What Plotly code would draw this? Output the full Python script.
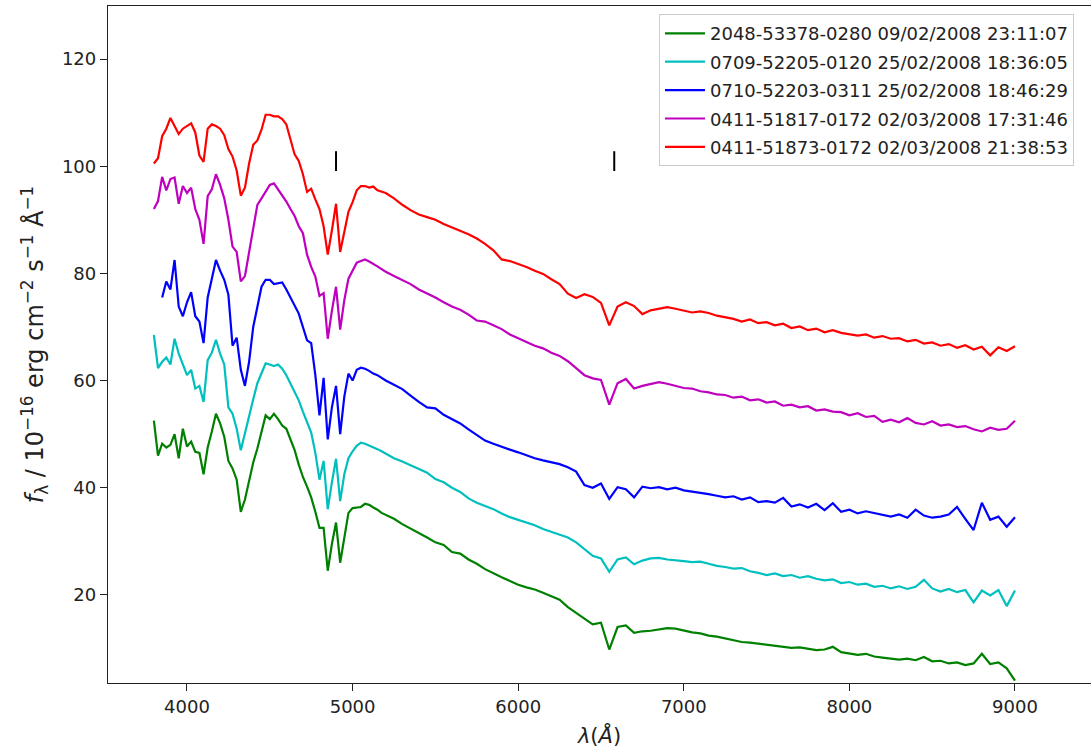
import plotly.graph_objects as go

# wavelength grid (Angstrom): 25 A steps in the blue, 50 A steps redwards
wave_blue = list(range(3800, 5201, 25))
wave_red = list(range(5250, 9001, 50))
wavelength = wave_blue + wave_red

labels = [
    "2048-53378-0280 09/02/2008 23:11:07",
    "0709-52205-0120 25/02/2008 18:36:05",
    "0710-52203-0311 25/02/2008 18:46:29",
    "0411-51817-0172 02/03/2008 17:31:46",
    "0411-51873-0172 02/03/2008 21:38:53",
]

flux_green = [
    52.5, 46, 48.2, 47.5, 48, 50, 45.5, 51, 47.7, 48.6,
    46.7, 46.5, 42.5, 47.5, 50.5, 53.8, 52, 49.5, 45, 43.6,
    41.5, 35.5, 37.8, 41.5, 44.7, 47.3, 50.5, 53.5, 52.8, 53.8,
    52.8, 51.6, 51, 49, 47, 44.3, 42, 40.2, 38.2, 35.5,
    32.5, 32.5, 24.5, 29.5, 33.5, 26, 31, 35.3, 36.2, 36.3,
    36.4, 37, 36.8, 36.3, 35.9, 35.3, 34.9,
    34.2, 33.2, 32.4, 31.6, 30.7, 29.8, 29.3, 28, 27.7, 26.6,
    25.8, 24.8, 24, 23.3, 22.6, 21.9, 21.4, 21, 20.4, 19.8,
    19.1, 17.7, 16.6, 15.5, 14.5, 14.8, 9.8, 14, 14.3, 12.9,
    13.2, 13.3, 13.6, 13.8, 13.7, 13.3, 13, 12.8, 12.4, 12.2,
    11.9, 11.5, 11.2, 11.1, 10.9, 10.6, 10.5, 10.3, 10.1, 10.2,
    9.9, 9.7, 9.8, 10.3, 9.3, 9.1, 8.8, 9, 8.5, 8.3,
    8.1, 7.9, 8.1, 7.8, 8.4, 7.6, 7.7, 7.2, 7.4, 6.9,
    7.2, 9, 7.1, 7.4, 6.3, 4,
]

flux_cyan = [
    68.5, 62.3, 63.5, 64.3, 63, 67.8, 65, 63, 61, 62,
    58.5, 59, 56, 63.8, 65.2, 67.6, 65, 63, 55, 53.8,
    51, 47, 50.3, 53.5, 56.5, 59.5, 61.5, 63.2, 63, 62.7,
    63, 62.2, 61, 59.5, 58, 56.3, 54.2, 52.3, 50.3, 46.5,
    41.5, 45, 36, 41, 45.4, 37.5, 42.5, 45.5, 46.8, 47.8,
    48.4, 48.2, 47.9, 47.6, 47.2, 46.8, 46.4,
    45.5, 44.9, 44.2, 43.6, 42.8, 41.6, 41, 40, 39.2, 38,
    37.2, 36.6, 36, 35.2, 34.5, 34, 33.5, 33, 32.3, 31.8,
    31.2, 30.7, 29.8, 28.6, 27.3, 26.8, 24.3, 26.6, 27, 25.7,
    26.4, 26.8, 26.9, 26.6, 26.5, 26.3, 26.1, 26.2, 25.8, 25.4,
    25.2, 24.9, 25, 24.4, 24.1, 23.7, 24, 23.5, 23.7, 23.2,
    23.5, 23, 22.7, 22.9, 22.2, 22.4, 21.9, 22.1, 21.5, 21.7,
    21.2, 21.6, 21.1, 21.5, 22.8, 21.2, 20.6, 21.1, 20.5, 20.9,
    18.6, 20.8, 19.9, 20.9, 17.9, 20.8,
]

flux_blue = [
    None, None, 75.5, 78.5, 77, 82.5, 73.8, 72, 74.6, 76.5,
    72, 71, 67, 75.5, 79, 82.5, 80.5, 78.8, 76, 66.5,
    68, 62, 59, 63.5, 70, 73.5, 77.5, 78.8, 78.8, 78,
    78.2, 78.3, 77, 75.5, 74, 72.5, 70, 67.5, 67, 61,
    53.5, 60.5, 49, 55, 59, 50, 57, 61.3, 60, 62,
    62.4, 62.2, 61.8, 61.3, 61, 60.5, 60,
    59.2, 58.4, 57.2, 56, 55, 54.8, 53.6, 52.8, 52, 50.9,
    49.9, 48.8, 48.2, 47.6, 47.1, 46.6, 46, 45.5, 45.1, 44.8,
    44.4, 43.8, 43, 40.5, 40, 40.8, 37.9, 40.1, 39.7, 38.2,
    40.2, 39.9, 40.1, 39.7, 40, 39.5, 39.3, 39, 38.8, 38.5,
    38.2, 38.4, 37.8, 38.2, 37.3, 37.5, 37.2, 38.1, 36.5, 36.9,
    36.3, 37, 35.8, 37.1, 35.5, 35.9, 35.2, 35.6, 35.3, 35,
    34.6, 35, 34.4, 35.9, 34.8, 34.4, 34.6, 35, 36.4, 34.2,
    32.1, 37.2, 34, 34.6, 32.7, 34.5,
]

flux_magenta = [
    92, 93.5, 98, 95.5, 97.6, 97.9, 93, 96.3, 95, 96,
    92, 90, 85.5, 94.4, 95.7, 98.5, 96.5, 94, 90, 85,
    84, 78.5, 79.5, 84, 88, 92.8, 94, 95.3, 96.5, 96.8,
    95.7, 94.6, 93.4, 92, 90.7, 88.8, 87.5, 83.5, 81.2, 79.4,
    75.8, 76.3, 67.8, 73, 77.5, 69.5, 75, 79, 80.5, 82,
    82.3, 82.6, 82.2, 81.8, 81.3, 80.8, 80.3,
    79.5, 78.8, 78, 77, 76.3, 75.5, 74.6, 73.8, 73.2, 72.3,
    71.2, 71, 70.3, 69.6, 68.6, 67.9, 67.1, 66.5, 66, 65.2,
    64.6, 63.6, 62.3, 61, 60.4, 60.1, 55.5, 59.5, 60.3, 58.5,
    59, 59.4, 59.7, 59.4, 59, 58.6, 58.5, 58, 57.8, 57.4,
    57.3, 56.8, 57, 56.3, 56.5, 55.9, 56.1, 55.3, 55.5, 55,
    55.2, 54.4, 54.6, 54.2, 54.1, 53.5, 53.9, 53.2, 53.4, 52.3,
    52.7, 52.2, 53, 52.1, 51.8, 52.4, 51.6, 51.8, 51.3, 51.5,
    50.9, 50.5, 51.2, 50.8, 51, 52.5,
]

flux_red = [
    100.5, 101.5, 105.6, 107, 109, 107.5, 106, 107, 107.5, 108,
    106.3, 102, 100.8, 107, 107.8, 107.5, 107, 105.8, 103.2, 101.8,
    99.2, 94.5, 96, 100.5, 104, 104.8, 106.8, 109.6, 109.6, 109.3,
    109.3, 108.8, 107.8, 105, 102.2, 101, 98.5, 95.2, 95.8, 93.8,
    92, 88.8, 83.5, 88, 93, 84, 87.5, 91.5, 93.3, 95.5,
    96.3, 96.3, 96, 96.2, 95.5, 95.2, 95,
    94, 92.8, 91.8, 91, 90.5, 90, 89.2, 88.6, 88, 87.3,
    86.5, 85.5, 84.3, 82.6, 82.3, 81.8, 81.2, 80.5, 79.9, 78.9,
    78, 76.2, 75.4, 76.1, 75.6, 74.5, 70.3, 73.8, 74.6, 73.9,
    72.4, 73.1, 73.4, 73.7, 73.4, 73, 72.7, 72.9, 72.6, 72.1,
    71.8, 71.5, 71, 71.4, 70.7, 70.9, 70.3, 70.6, 69.8, 70.1,
    69.4, 69.7, 69, 69.4, 68.9, 68.7, 68.4, 68.6, 68, 68.3,
    67.8, 67.9, 67.3, 67.6, 66.9, 67.1, 66.5, 66.8, 66.1, 66.6,
    65.8, 66.3, 64.7, 66.2, 65.5, 66.4,
]

# tick markers for the lines of interest
marker_wave = [4900, 6580]
marker_lo = 99.1
marker_hi = 102.8

series = [flux_green, flux_cyan, flux_blue, flux_magenta, flux_red]
colors = ["#008000", "#00BFBF", "#0000FF", "#BF00BF", "#FF0000"]

fig = go.Figure()
for lab, ys, col in zip(labels, series, colors):
    fig.add_trace(go.Scatter(
        x=wavelength, y=ys, mode="lines", name=lab,
        line=dict(color=col, width=2.2), legendgroup=lab,
    ))

mx, my = [], []
for w in marker_wave:
    mx += [w, w, None]
    my += [marker_lo, marker_hi, None]
fig.add_trace(go.Scatter(x=mx, y=my, mode="lines", showlegend=False,
                         line=dict(color="black", width=2)))

font = "DejaVu Sans"
fig.update_layout(
    width=1091, height=753,
    margin=dict(l=108, r=0, t=6, b=70),
    paper_bgcolor="white", plot_bgcolor="white",
    font=dict(family=font, size=18, color="#222"),
    showlegend=True,
    legend=dict(
        x=0.5605, y=0.988, xanchor="left", yanchor="top",
        bgcolor="rgba(255,255,255,0.9)", bordercolor="#cccccc", borderwidth=1,
        font=dict(family=font, size=18, color="#222"),
        tracegroupgap=2, itemwidth=40,
    ),
    xaxis=dict(
        range=[3523, 9459], showgrid=False, zeroline=False, automargin=False,
        showline=True, linecolor="#222", linewidth=1.3, mirror=True,
        ticks="outside", ticklen=7, tickcolor="#222",
        tickvals=[4000, 5000, 6000, 7000, 8000, 9000],
        tickfont=dict(size=18),
        title=dict(text="<i>λ</i>(<i>Å</i>)", font=dict(size=21), standoff=12),
    ),
    yaxis=dict(
        range=[3.55, 129.9], showgrid=False, zeroline=False, automargin=False,
        showline=True, linecolor="#222", linewidth=1.3, mirror=False,
        ticks="outside", ticklen=7, tickcolor="#222",
        tickvals=[20, 40, 60, 80, 100, 120],
        tickfont=dict(size=18),
        title=dict(text="<i>f</i><sub>λ</sub> / 10<sup>−16</sup> erg cm<sup>−2</sup> s<sup>−1</sup> Å<sup>−1</sup>",
                   font=dict(size=24), standoff=11),
    ),
)

fig.write_html("out.html")
